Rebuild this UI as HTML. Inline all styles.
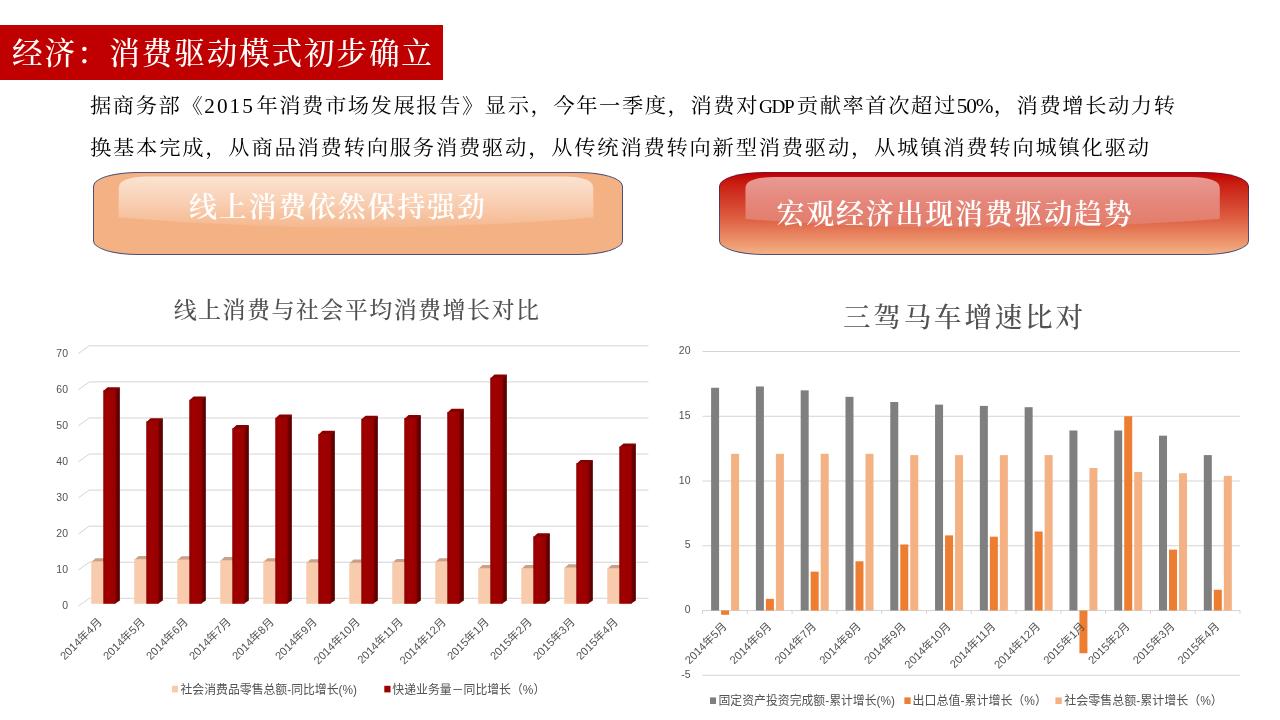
<!DOCTYPE html>
<html lang="zh-CN"><head><meta charset="utf-8">
<title>经济：消费驱动模式初步确立</title>
<style>
html,body{margin:0;padding:0;background:#fff;}
body{width:1280px;height:720px;position:relative;overflow:hidden;font-family:"Liberation Sans", "Noto Sans CJK SC", sans-serif;}
.abs{position:absolute;}
#banner{left:0;top:25px;width:442.5px;height:54.5px;background:#c00000;}
#banner span{position:absolute;left:12px;top:2px;height:54px;line-height:54px;font-size:30.6px;letter-spacing:1.85px;color:#fff;white-space:nowrap;font-family:"Liberation Serif", "Noto Serif CJK SC", serif;font-weight:500;}
.para{left:90px;width:1084px;height:30px;line-height:30px;font-size:21.3px;color:#000;font-family:"Liberation Serif", "Noto Serif CJK SC", serif;font-weight:400;transform:scaleY(0.96);transform-origin:center;white-space:nowrap;text-align:justify;text-align-last:justify;}
.btn{box-sizing:border-box;border:1px solid #4a4f7c;border-radius:45px / 14px;overflow:hidden;}
.btn .hl{position:absolute;}
.btn .inner{position:relative;width:100%;height:100%;border-radius:44px / 13px;overflow:hidden;}
.btn .lbl{position:absolute;white-space:nowrap;color:#fff;font-family:"Liberation Serif", "Noto Serif CJK SC", serif;font-weight:600;font-size:28px;letter-spacing:1.75px;line-height:36px;height:36px;}
svg text{font-family:"Liberation Sans", "Noto Sans CJK SC", sans-serif;fill:#525252;}
svg text.ser{font-family:"Liberation Serif", "Noto Serif CJK SC", serif;font-weight:500;}

</style></head><body>
<div id="banner" class="abs"><span>经济：消费驱动模式初步确立</span></div>
<div class="abs para" id="p1" style="top:90.9px;width:1085px;">据商务部《<span style="letter-spacing:2px">2015</span>年消费市场发展报告》显示，今年一季度，消费对<span style="letter-spacing:-1.3px;font-size:19.2px">GDP</span>&#8202;贡献率首次超过<span style="letter-spacing:-1.2px">50%</span>，消费增长动力转</div>
<div class="abs para" id="p2" style="top:132.7px;width:1059px;">换基本完成，从商品消费转向服务消费驱动，从传统消费转向新型消费驱动，从城镇消费转向城镇化驱动</div>
<div class="abs btn" id="b1" style="left:93px;top:172px;width:530px;height:82.5px;background:#f4b183;"><svg class="hl" style="left:0;top:0" width="531" height="83" viewBox="0 0 531 83"><defs><linearGradient id="g1" x1="0" y1="0" x2="0" y2="1"><stop offset="0" stop-color="#fbe3d2"/><stop offset="0.55" stop-color="#f8cdb0"/><stop offset="1" stop-color="#f5b88f"/></linearGradient></defs><path d="M24.7 15 Q24.7 3.8 54 3.5 L470 3.5 Q499.3 3.8 499.3 15 L499.3 44.6 Q262 64.5 24.7 44.6 Z" fill="url(#g1)"/></svg><span class="lbl" style="left:95px;top:17.3px;">线上消费依然保持强劲</span></div>
<div class="abs btn" id="b2" style="left:719px;top:172px;width:530px;height:82.5px;border:none;padding:1px;background:linear-gradient(180deg,#7a1232 0%,#5a2a55 30%,#4a4f7c 60%);"><div class="inner" style="background:linear-gradient(180deg,#c00000 0%,#c81c10 12%,#dd5c40 55%,#f4b183 100%);"><svg class="hl" style="left:0;top:0" width="531" height="83" viewBox="0 0 531 83"><defs><linearGradient id="g2" x1="0" y1="0" x2="0" y2="1"><stop offset="0" stop-color="#e89a94"/><stop offset="0.5" stop-color="#e5867a"/><stop offset="1" stop-color="#e27c68"/></linearGradient></defs><path d="M25.5 15 Q25.5 4.3 55 4 L470 4 Q499.8 4.3 499.8 15 L499.8 46 Q262 64 25.5 46 Z" fill="url(#g2)"/></svg><span class="lbl" style="left:56.5px;top:23.5px;">宏观经济出现消费驱动趋势</span></div></div>
<svg class="abs" style="left:0;top:0" width="1280" height="720" viewBox="0 0 1280 720">
<defs><linearGradient id="frontg" x1="0" y1="0" x2="1" y2="0"><stop offset="0" stop-color="#900000"/><stop offset="0.3" stop-color="#a00000"/><stop offset="1" stop-color="#990000"/></linearGradient><linearGradient id="sideg" x1="0" y1="0" x2="1" y2="0"><stop offset="0" stop-color="#7c0000"/><stop offset="1" stop-color="#540000"/></linearGradient></defs>
<text class="ser" x="357" y="318" font-size="23" letter-spacing="1.45" text-anchor="middle" fill="#505050">线上消费与社会平均消费增长对比</text>
<path d="M78.3 606.1 L89.3 598.3 L648.5 598.3" fill="none" stroke="#d4d4d4" stroke-width="1"/>
<text transform="translate(68 609.2) scale(0.92 1)" font-size="11.4" text-anchor="end">0</text>
<path d="M78.3 570.03 L89.3 562.23 L648.5 562.23" fill="none" stroke="#d4d4d4" stroke-width="1"/>
<text transform="translate(68 573.13) scale(0.92 1)" font-size="11.4" text-anchor="end">10</text>
<path d="M78.3 533.96 L89.3 526.16 L648.5 526.16" fill="none" stroke="#d4d4d4" stroke-width="1"/>
<text transform="translate(68 537.06) scale(0.92 1)" font-size="11.4" text-anchor="end">20</text>
<path d="M78.3 497.89 L89.3 490.09 L648.5 490.09" fill="none" stroke="#d4d4d4" stroke-width="1"/>
<text transform="translate(68 500.99) scale(0.92 1)" font-size="11.4" text-anchor="end">30</text>
<path d="M78.3 461.82 L89.3 454.02 L648.5 454.02" fill="none" stroke="#d4d4d4" stroke-width="1"/>
<text transform="translate(68 464.92) scale(0.92 1)" font-size="11.4" text-anchor="end">40</text>
<path d="M78.3 425.75 L89.3 417.95 L648.5 417.95" fill="none" stroke="#d4d4d4" stroke-width="1"/>
<text transform="translate(68 428.85) scale(0.92 1)" font-size="11.4" text-anchor="end">50</text>
<path d="M78.3 389.68 L89.3 381.88 L648.5 381.88" fill="none" stroke="#d4d4d4" stroke-width="1"/>
<text transform="translate(68 392.78) scale(0.92 1)" font-size="11.4" text-anchor="end">60</text>
<path d="M78.3 353.61 L89.3 345.81 L648.5 345.81" fill="none" stroke="#d4d4d4" stroke-width="1"/>
<text transform="translate(68 356.71) scale(0.92 1)" font-size="11.4" text-anchor="end">70</text>
<path d="M91.25 562.08 L95.55 558.18 L107.55 558.18 L103.25 562.08 Z" fill="#c9a18a"/>
<rect x="91.25" y="561.38" width="12" height="42.42" fill="#f8cbad"/>
<path d="M114.95 390.4 L119.85 387.2 L119.85 600.6 L114.95 603.8 Z" fill="url(#sideg)"/>
<path d="M103.25 391.1 L107.55 387.2 L119.85 387.2 L115.55 391.1 Z" fill="#870000"/>
<rect x="103.25" y="390.4" width="12.3" height="213.4" fill="url(#frontg)"/>
<text transform="translate(102.55 622.7) rotate(-45)" x="0" y="0" font-size="11.2" text-anchor="end">2014年4月</text>
<path d="M134.25 559.91 L138.55 556.01 L150.55 556.01 L146.25 559.91 Z" fill="#c9a18a"/>
<rect x="134.25" y="559.21" width="12" height="44.59" fill="#f8cbad"/>
<path d="M157.95 421.43 L162.85 418.23 L162.85 600.6 L157.95 603.8 Z" fill="url(#sideg)"/>
<path d="M146.25 422.13 L150.55 418.23 L162.85 418.23 L158.55 422.13 Z" fill="#870000"/>
<rect x="146.25" y="421.43" width="12.3" height="182.37" fill="url(#frontg)"/>
<text transform="translate(145.55 622.7) rotate(-45)" x="0" y="0" font-size="11.2" text-anchor="end">2014年5月</text>
<path d="M177.25 560.27 L181.55 556.37 L193.55 556.37 L189.25 560.27 Z" fill="#c9a18a"/>
<rect x="177.25" y="559.57" width="12" height="44.23" fill="#f8cbad"/>
<path d="M200.95 399.78 L205.85 396.58 L205.85 600.6 L200.95 603.8 Z" fill="url(#sideg)"/>
<path d="M189.25 400.48 L193.55 396.58 L205.85 396.58 L201.55 400.48 Z" fill="#870000"/>
<rect x="189.25" y="399.78" width="12.3" height="204.02" fill="url(#frontg)"/>
<text transform="translate(188.55 622.7) rotate(-45)" x="0" y="0" font-size="11.2" text-anchor="end">2014年6月</text>
<path d="M220.25 560.99 L224.55 557.09 L236.55 557.09 L232.25 560.99 Z" fill="#c9a18a"/>
<rect x="220.25" y="560.29" width="12" height="43.51" fill="#f8cbad"/>
<path d="M243.95 428.28 L248.85 425.08 L248.85 600.6 L243.95 603.8 Z" fill="url(#sideg)"/>
<path d="M232.25 428.98 L236.55 425.08 L248.85 425.08 L244.55 428.98 Z" fill="#870000"/>
<rect x="232.25" y="428.28" width="12.3" height="175.52" fill="url(#frontg)"/>
<text transform="translate(231.55 622.7) rotate(-45)" x="0" y="0" font-size="11.2" text-anchor="end">2014年7月</text>
<path d="M263.25 562.08 L267.55 558.18 L279.55 558.18 L275.25 562.08 Z" fill="#c9a18a"/>
<rect x="263.25" y="561.38" width="12" height="42.42" fill="#f8cbad"/>
<path d="M286.95 417.82 L291.85 414.62 L291.85 600.6 L286.95 603.8 Z" fill="url(#sideg)"/>
<path d="M275.25 418.52 L279.55 414.62 L291.85 414.62 L287.55 418.52 Z" fill="#870000"/>
<rect x="275.25" y="417.82" width="12.3" height="185.98" fill="url(#frontg)"/>
<text transform="translate(274.55 622.7) rotate(-45)" x="0" y="0" font-size="11.2" text-anchor="end">2014年8月</text>
<path d="M306.25 563.16 L310.55 559.26 L322.55 559.26 L318.25 563.16 Z" fill="#c9a18a"/>
<rect x="306.25" y="562.46" width="12" height="41.34" fill="#f8cbad"/>
<path d="M329.95 434.05 L334.85 430.85 L334.85 600.6 L329.95 603.8 Z" fill="url(#sideg)"/>
<path d="M318.25 434.75 L322.55 430.85 L334.85 430.85 L330.55 434.75 Z" fill="#870000"/>
<rect x="318.25" y="434.05" width="12.3" height="169.75" fill="url(#frontg)"/>
<text transform="translate(317.55 622.7) rotate(-45)" x="0" y="0" font-size="11.2" text-anchor="end">2014年9月</text>
<path d="M349.25 563.52 L353.55 559.62 L365.55 559.62 L361.25 563.52 Z" fill="#c9a18a"/>
<rect x="349.25" y="562.82" width="12" height="40.98" fill="#f8cbad"/>
<path d="M372.95 418.9 L377.85 415.7 L377.85 600.6 L372.95 603.8 Z" fill="url(#sideg)"/>
<path d="M361.25 419.6 L365.55 415.7 L377.85 415.7 L373.55 419.6 Z" fill="#870000"/>
<rect x="361.25" y="418.9" width="12.3" height="184.9" fill="url(#frontg)"/>
<text transform="translate(360.55 622.7) rotate(-45)" x="0" y="0" font-size="11.2" text-anchor="end">2014年10月</text>
<path d="M392.25 562.8 L396.55 558.9 L408.55 558.9 L404.25 562.8 Z" fill="#c9a18a"/>
<rect x="392.25" y="562.1" width="12" height="41.7" fill="#f8cbad"/>
<path d="M415.95 418.18 L420.85 414.98 L420.85 600.6 L415.95 603.8 Z" fill="url(#sideg)"/>
<path d="M404.25 418.88 L408.55 414.98 L420.85 414.98 L416.55 418.88 Z" fill="#870000"/>
<rect x="404.25" y="418.18" width="12.3" height="185.62" fill="url(#frontg)"/>
<text transform="translate(403.55 622.7) rotate(-45)" x="0" y="0" font-size="11.2" text-anchor="end">2014年11月</text>
<path d="M435.25 562.08 L439.55 558.18 L451.55 558.18 L447.25 562.08 Z" fill="#c9a18a"/>
<rect x="435.25" y="561.38" width="12" height="42.42" fill="#f8cbad"/>
<path d="M458.95 412.05 L463.85 408.85 L463.85 600.6 L458.95 603.8 Z" fill="url(#sideg)"/>
<path d="M447.25 412.75 L451.55 408.85 L463.85 408.85 L459.55 412.75 Z" fill="#870000"/>
<rect x="447.25" y="412.05" width="12.3" height="191.75" fill="url(#frontg)"/>
<text transform="translate(446.55 622.7) rotate(-45)" x="0" y="0" font-size="11.2" text-anchor="end">2014年12月</text>
<path d="M478.25 568.93 L482.55 565.03 L494.55 565.03 L490.25 568.93 Z" fill="#c9a18a"/>
<rect x="478.25" y="568.23" width="12" height="35.57" fill="#f8cbad"/>
<path d="M501.95 377.78 L506.85 374.58 L506.85 600.6 L501.95 603.8 Z" fill="url(#sideg)"/>
<path d="M490.25 378.48 L494.55 374.58 L506.85 374.58 L502.55 378.48 Z" fill="#870000"/>
<rect x="490.25" y="377.78" width="12.3" height="226.02" fill="url(#frontg)"/>
<text transform="translate(489.55 622.7) rotate(-45)" x="0" y="0" font-size="11.2" text-anchor="end">2015年1月</text>
<path d="M521.25 568.93 L525.55 565.03 L537.55 565.03 L533.25 568.93 Z" fill="#c9a18a"/>
<rect x="521.25" y="568.23" width="12" height="35.57" fill="#f8cbad"/>
<path d="M544.95 536.49 L549.85 533.29 L549.85 600.6 L544.95 603.8 Z" fill="url(#sideg)"/>
<path d="M533.25 537.19 L537.55 533.29 L549.85 533.29 L545.55 537.19 Z" fill="#870000"/>
<rect x="533.25" y="536.49" width="12.3" height="67.31" fill="url(#frontg)"/>
<text transform="translate(532.55 622.7) rotate(-45)" x="0" y="0" font-size="11.2" text-anchor="end">2015年2月</text>
<path d="M564.25 568.21 L568.55 564.31 L580.55 564.31 L576.25 568.21 Z" fill="#c9a18a"/>
<rect x="564.25" y="567.51" width="12" height="36.29" fill="#f8cbad"/>
<path d="M587.95 463.27 L592.85 460.07 L592.85 600.6 L587.95 603.8 Z" fill="url(#sideg)"/>
<path d="M576.25 463.97 L580.55 460.07 L592.85 460.07 L588.55 463.97 Z" fill="#870000"/>
<rect x="576.25" y="463.27" width="12.3" height="140.53" fill="url(#frontg)"/>
<text transform="translate(575.55 622.7) rotate(-45)" x="0" y="0" font-size="11.2" text-anchor="end">2015年3月</text>
<path d="M607.25 568.93 L611.55 565.03 L623.55 565.03 L619.25 568.93 Z" fill="#c9a18a"/>
<rect x="607.25" y="568.23" width="12" height="35.57" fill="#f8cbad"/>
<path d="M630.95 446.67 L635.85 443.47 L635.85 600.6 L630.95 603.8 Z" fill="url(#sideg)"/>
<path d="M619.25 447.37 L623.55 443.47 L635.85 443.47 L631.55 447.37 Z" fill="#870000"/>
<rect x="619.25" y="446.67" width="12.3" height="157.13" fill="url(#frontg)"/>
<text transform="translate(618.55 622.7) rotate(-45)" x="0" y="0" font-size="11.2" text-anchor="end">2015年4月</text>
<rect x="172" y="685.8" width="6" height="6.6" fill="#f8cbad"/>
<text x="180.5" y="693.7" font-size="12.4" fill="#4d4d4d" textLength="176.5" lengthAdjust="spacingAndGlyphs">社会消费品零售总额-同比增长(%)</text>
<rect x="384.3" y="685.8" width="6.2" height="6.6" fill="#9e0000"/>
<text x="392.3" y="693.7" font-size="12.4" fill="#4d4d4d" textLength="153" lengthAdjust="spacingAndGlyphs">快递业务量－同比增长（%）</text>
<text class="ser" x="964.4" y="327.3" font-size="27.6" letter-spacing="2.75" text-anchor="middle" fill="#505050">三驾马车增速比对</text>
<path d="M702.5 351.5 L1240 351.5" stroke="#d4d4d4" stroke-width="1" fill="none"/>
<text transform="translate(690.5 354.2) scale(0.92 1)" font-size="11.4" text-anchor="end">20</text>
<path d="M702.5 416.25 L1240 416.25" stroke="#d4d4d4" stroke-width="1" fill="none"/>
<text transform="translate(690.5 418.95) scale(0.92 1)" font-size="11.4" text-anchor="end">15</text>
<path d="M702.5 481 L1240 481" stroke="#d4d4d4" stroke-width="1" fill="none"/>
<text transform="translate(690.5 483.7) scale(0.92 1)" font-size="11.4" text-anchor="end">10</text>
<path d="M702.5 545.75 L1240 545.75" stroke="#d4d4d4" stroke-width="1" fill="none"/>
<text transform="translate(690.5 548.45) scale(0.92 1)" font-size="11.4" text-anchor="end">5</text>
<path d="M702.5 610.5 L1240 610.5" stroke="#d4d4d4" stroke-width="1" fill="none"/>
<text transform="translate(690.5 613.2) scale(0.92 1)" font-size="11.4" text-anchor="end">0</text>
<path d="M702.5 675.25 L1240 675.25" stroke="#d4d4d4" stroke-width="1" fill="none"/>
<text transform="translate(690.5 677.95) scale(0.92 1)" font-size="11.4" text-anchor="end">-5</text>
<path d="M702.5 610.5 L702.5 614" stroke="#d4d4d4" stroke-width="1" fill="none"/>
<rect x="711.1" y="387.76" width="8" height="222.74" fill="#7f7f7f"/>
<rect x="721.1" y="610.5" width="8" height="4.27" fill="#ed7d31"/>
<rect x="731.1" y="453.81" width="8" height="156.69" fill="#f4b183"/>
<text transform="translate(727.4 627) rotate(-45)" x="0" y="0" font-size="11.2" text-anchor="end">2014年5月</text>
<path d="M747.29 610.5 L747.29 614" stroke="#d4d4d4" stroke-width="1" fill="none"/>
<rect x="755.89" y="386.47" width="8" height="224.03" fill="#7f7f7f"/>
<rect x="765.89" y="598.85" width="8" height="11.65" fill="#ed7d31"/>
<rect x="775.89" y="453.81" width="8" height="156.69" fill="#f4b183"/>
<text transform="translate(772.19 627) rotate(-45)" x="0" y="0" font-size="11.2" text-anchor="end">2014年6月</text>
<path d="M792.08 610.5 L792.08 614" stroke="#d4d4d4" stroke-width="1" fill="none"/>
<rect x="800.68" y="390.35" width="8" height="220.15" fill="#7f7f7f"/>
<rect x="810.68" y="571.65" width="8" height="38.85" fill="#ed7d31"/>
<rect x="820.68" y="453.81" width="8" height="156.69" fill="#f4b183"/>
<text transform="translate(816.98 627) rotate(-45)" x="0" y="0" font-size="11.2" text-anchor="end">2014年7月</text>
<path d="M836.88 610.5 L836.88 614" stroke="#d4d4d4" stroke-width="1" fill="none"/>
<rect x="845.48" y="396.83" width="8" height="213.67" fill="#7f7f7f"/>
<rect x="855.48" y="561.29" width="8" height="49.21" fill="#ed7d31"/>
<rect x="865.48" y="453.81" width="8" height="156.69" fill="#f4b183"/>
<text transform="translate(861.77 627) rotate(-45)" x="0" y="0" font-size="11.2" text-anchor="end">2014年8月</text>
<path d="M881.67 610.5 L881.67 614" stroke="#d4d4d4" stroke-width="1" fill="none"/>
<rect x="890.27" y="402" width="8" height="208.5" fill="#7f7f7f"/>
<rect x="900.27" y="544.46" width="8" height="66.04" fill="#ed7d31"/>
<rect x="910.27" y="455.1" width="8" height="155.4" fill="#f4b183"/>
<text transform="translate(906.56 627) rotate(-45)" x="0" y="0" font-size="11.2" text-anchor="end">2014年9月</text>
<path d="M926.46 610.5 L926.46 614" stroke="#d4d4d4" stroke-width="1" fill="none"/>
<rect x="935.06" y="404.6" width="8" height="205.91" fill="#7f7f7f"/>
<rect x="945.06" y="535.39" width="8" height="75.11" fill="#ed7d31"/>
<rect x="955.06" y="455.1" width="8" height="155.4" fill="#f4b183"/>
<text transform="translate(951.35 627) rotate(-45)" x="0" y="0" font-size="11.2" text-anchor="end">2014年10月</text>
<path d="M971.25 610.5 L971.25 614" stroke="#d4d4d4" stroke-width="1" fill="none"/>
<rect x="979.85" y="405.89" width="8" height="204.61" fill="#7f7f7f"/>
<rect x="989.85" y="536.68" width="8" height="73.81" fill="#ed7d31"/>
<rect x="999.85" y="455.1" width="8" height="155.4" fill="#f4b183"/>
<text transform="translate(996.15 627) rotate(-45)" x="0" y="0" font-size="11.2" text-anchor="end">2014年11月</text>
<path d="M1016.04 610.5 L1016.04 614" stroke="#d4d4d4" stroke-width="1" fill="none"/>
<rect x="1024.64" y="407.19" width="8" height="203.31" fill="#7f7f7f"/>
<rect x="1034.64" y="531.5" width="8" height="78.99" fill="#ed7d31"/>
<rect x="1044.64" y="455.1" width="8" height="155.4" fill="#f4b183"/>
<text transform="translate(1040.94 627) rotate(-45)" x="0" y="0" font-size="11.2" text-anchor="end">2014年12月</text>
<path d="M1060.83 610.5 L1060.83 614" stroke="#d4d4d4" stroke-width="1" fill="none"/>
<rect x="1069.43" y="430.5" width="8" height="180" fill="#7f7f7f"/>
<rect x="1079.43" y="610.5" width="8" height="42.73" fill="#ed7d31"/>
<rect x="1089.43" y="468.05" width="8" height="142.45" fill="#f4b183"/>
<text transform="translate(1085.73 627) rotate(-45)" x="0" y="0" font-size="11.2" text-anchor="end">2015年1月</text>
<path d="M1105.62 610.5 L1105.62 614" stroke="#d4d4d4" stroke-width="1" fill="none"/>
<rect x="1114.22" y="430.5" width="8" height="180" fill="#7f7f7f"/>
<rect x="1124.22" y="416.25" width="8" height="194.25" fill="#ed7d31"/>
<rect x="1134.22" y="471.94" width="8" height="138.56" fill="#f4b183"/>
<text transform="translate(1130.52 627) rotate(-45)" x="0" y="0" font-size="11.2" text-anchor="end">2015年2月</text>
<path d="M1150.42 610.5 L1150.42 614" stroke="#d4d4d4" stroke-width="1" fill="none"/>
<rect x="1159.02" y="435.68" width="8" height="174.82" fill="#7f7f7f"/>
<rect x="1169.02" y="549.63" width="8" height="60.87" fill="#ed7d31"/>
<rect x="1179.02" y="473.23" width="8" height="137.27" fill="#f4b183"/>
<text transform="translate(1175.31 627) rotate(-45)" x="0" y="0" font-size="11.2" text-anchor="end">2015年3月</text>
<path d="M1195.21 610.5 L1195.21 614" stroke="#d4d4d4" stroke-width="1" fill="none"/>
<rect x="1203.81" y="455.1" width="8" height="155.4" fill="#7f7f7f"/>
<rect x="1213.81" y="589.78" width="8" height="20.72" fill="#ed7d31"/>
<rect x="1223.81" y="475.82" width="8" height="134.68" fill="#f4b183"/>
<text transform="translate(1220.1 627) rotate(-45)" x="0" y="0" font-size="11.2" text-anchor="end">2015年4月</text>
<path d="M1240 610.5 L1240 614" stroke="#d4d4d4" stroke-width="1" fill="none"/>
<rect x="710" y="697.4" width="6" height="6.6" fill="#7f7f7f"/>
<text x="718.5" y="704.7" font-size="12.4" fill="#4d4d4d" textLength="176.5" lengthAdjust="spacingAndGlyphs">固定资产投资完成额-累计增长(%)</text>
<rect x="904.4" y="697.4" width="6.2" height="6.6" fill="#ed7d31"/>
<text x="912.5" y="704.7" font-size="12.4" fill="#4d4d4d" textLength="134.5" lengthAdjust="spacingAndGlyphs">出口总值-累计增长（%）</text>
<rect x="1055.4" y="697.4" width="6.4" height="6.6" fill="#f4b183"/>
<text x="1064.3" y="704.7" font-size="12.4" fill="#4d4d4d" textLength="158.5" lengthAdjust="spacingAndGlyphs">社会零售总额-累计增长（%）</text>
</svg>
</body></html>
